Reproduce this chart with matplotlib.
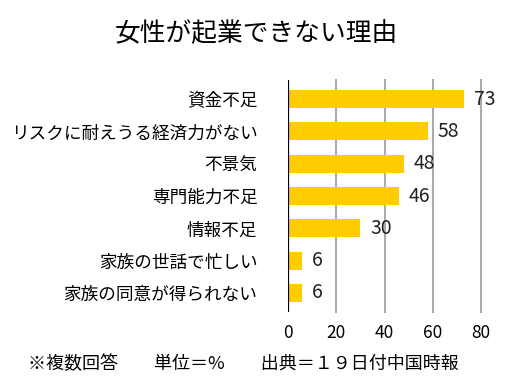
import matplotlib
matplotlib.use('Agg')
import matplotlib.pyplot as plt

plt.rcParams['font.family'] = ['Noto Sans CJK JP', 'DejaVu Sans']

# data
reasons = ['資金不足', 'リスクに耐えうる経済力がない', '不景気', '専門能力不足',
           '情報不足', '家族の世話で忙しい', '家族の同意が得られない']
percent = [73, 58, 48, 46, 30, 6, 6]
xticks = [0, 20, 40, 60, 80]

fig = plt.figure(figsize=(5.12, 3.87), dpi=100)
ax = fig.add_axes([0.5625, 0.194, 0.377, 0.599])

ypos = list(range(len(reasons)))
ax.barh(ypos, percent, height=0.56, color='#FFCC00', zorder=2)
for y, v in zip(ypos, percent):
    ax.text(v + 4, y, str(v), va='center', ha='left', fontsize=14, color='#222222')

ax.set_xlim(0, 80)
ax.set_ylim(len(reasons) - 0.41, -0.59)
ax.set_yticks(ypos)
ax.set_yticklabels(reasons, fontsize=12.7)
ax.set_xticks(xticks)
ax.set_xticklabels([str(t) for t in xticks], fontsize=12.5)
ax.tick_params(axis='y', length=0, pad=22)
ax.tick_params(axis='x', length=0, pad=9)

for t in xticks[1:]:
    ax.axvline(t, color='#aaaaaa', lw=1.5, zorder=1, clip_on=False)
ax.axvline(0, color='black', lw=1.6, zorder=3)

for s in ax.spines.values():
    s.set_visible(False)

fig.text(0.5, 0.915, '女性が起業できない理由', ha='center', va='center', fontsize=18.5)
fig.text(0.055, 0.058, '※複数回答　　単位＝%　　出典＝１９日付中国時報', ha='left', va='center', fontsize=13)

fig.savefig('out.png', dpi=100, facecolor='white')
